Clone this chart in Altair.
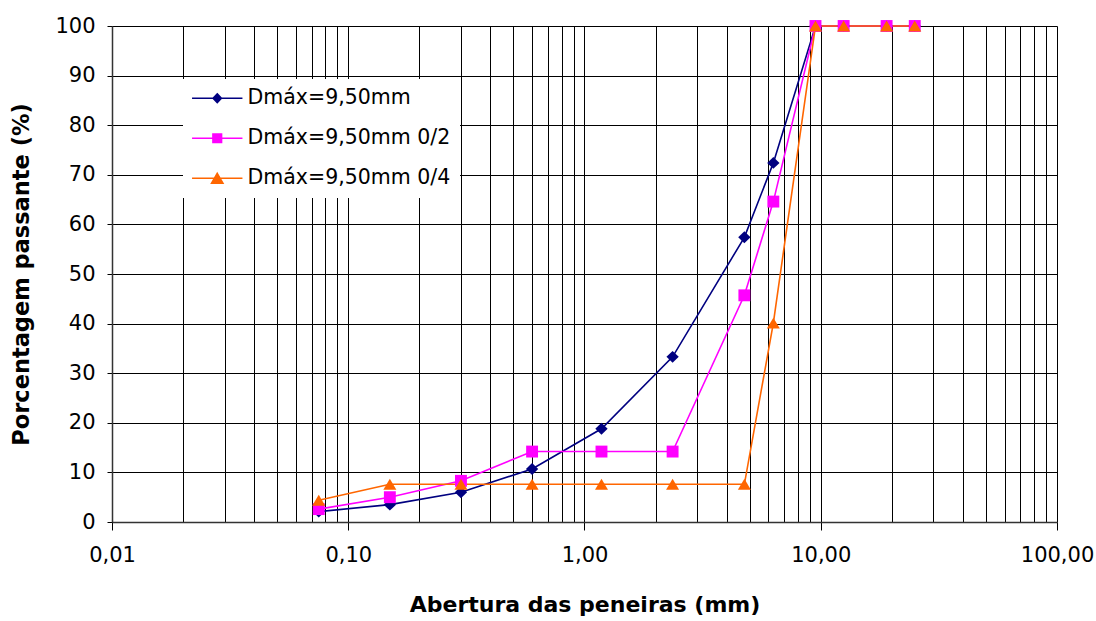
import altair as alt
import pandas as pd

# ---- data ----
sieves = [0.075, 0.15, 0.3, 0.6, 1.18, 2.36, 4.75, 6.3, 9.5, 12.5, 19.0, 25.0]
serie_names = ["Dmáx=9,50mm", "Dmáx=9,50mm 0/2", "Dmáx=9,50mm 0/4"]
passing_a = [2.1, 3.5, 6.0, 10.7, 18.8, 33.3, 57.4, 72.4, 100, 100, 100, 100]
passing_b = [2.6, 5.0, 8.3, 14.2, 14.2, 14.2, 45.7, 64.6, 100, 100, 100, 100]
passing_c = [4.4, 7.6, 7.6, 7.6, 7.6, 7.6, 7.6, 40.1, 100, 100, 100, 100]
series_colors = ["#000080", "#FF00FF", "#FF6600"]
x_tick_values = [0.01, 0.02, 0.03, 0.04, 0.05, 0.06, 0.07, 0.08, 0.09,
                 0.1, 0.2, 0.3, 0.4, 0.5, 0.6, 0.7, 0.8, 0.9,
                 1, 2, 3, 4, 5, 6, 7, 8, 9,
                 10, 20, 30, 40, 50, 60, 70, 80, 90, 100]
y_tick_values = [0, 10, 20, 30, 40, 50, 60, 70, 80, 90, 100]

# marker shapes (custom paths) and legend symbols (line + marker)
marker_paths = [
    "M0,-0.85L0.88,0L0,0.85L-0.88,0Z",
    "M-0.85,-0.85H0.85V0.85H-0.85Z",
    "M0,-0.78L0.93,0.78L-0.93,0.78Z",
]
legend_paths = [
    "M-3.6,0H3.6M0,-0.64L0.6,0L0,0.64L-0.6,0Z",
    "M-3.6,0H3.6M-0.62,-0.62H0.62V0.62H-0.62Z",
    "M-3.6,0H3.6M0,-0.7L0.82,0.7L-0.82,0.7Z",
]

rows = []
for name, vals in zip(serie_names, [passing_a, passing_b, passing_c]):
    for s, v in zip(sieves, vals):
        rows.append({"serie": name, "abertura": s, "passante": v})
df = pd.DataFrame(rows)

FONT = "DejaVu Sans"
decade = "abs(log(datum.value)/LN10 - round(log(datum.value)/LN10)) < 0.000001"

x_axis = alt.Axis(
    values=x_tick_values,
    title="Abertura das peneiras (mm)",
    labelExpr=f"({decade}) ? replace(format(datum.value, '.2f'), '.', ',') : ''",
    labelOverlap=False,
    labelFlush=False,
    grid=True, gridColor="#000000", gridWidth=1, gridOpacity=1,
    tickOpacity={"condition": {"test": decade, "value": 1}, "value": 0},
    tickSize=8, tickColor="#000000", tickWidth=1,
    domainColor="#333333", domainWidth=1.5,
    labelFont=FONT, labelFontSize=21, labelColor="#000000", labelPadding=14,
    titleFont=FONT, titleFontWeight="bold", titleFontSize=22, titleColor="#000000",
    titlePadding=29,
)
y_axis = alt.Axis(
    values=y_tick_values,
    title="Porcentagem passante (%)",
    grid=True, gridColor="#000000", gridWidth=1, gridOpacity=1,
    tickSize=5, tickColor="#000000", tickWidth=1,
    domainColor="#333333", domainWidth=1.5,
    labelFont=FONT, labelFontSize=21, labelColor="#000000", labelPadding=12,
    titleFont=FONT, titleFontWeight="bold", titleFontSize=22.5, titleColor="#000000",
    titlePadding=21,
)

x_enc = alt.X("abertura:Q", scale=alt.Scale(type="log", domain=[0.01, 100]), axis=x_axis)
y_enc = alt.Y("passante:Q", scale=alt.Scale(domain=[0, 100]), axis=y_axis)
color_scale = alt.Scale(domain=serie_names, range=series_colors)

lines = alt.Chart(df).mark_line(strokeWidth=1.6).encode(
    x=x_enc, y=y_enc,
    color=alt.Color("serie:N", scale=color_scale, legend=None),
)

points = alt.Chart(df).mark_point(filled=True, size=196, opacity=1, strokeWidth=0).encode(
    x=x_enc, y=y_enc,
    color=alt.Color("serie:N", scale=color_scale, legend=None),
    shape=alt.Shape("serie:N", scale=alt.Scale(domain=serie_names, range=marker_paths), legend=None),
)

leg = alt.Legend(
    title=None, orient="none", legendX=71, legendY=53,
    padding=9, fillColor="#FFFFFF", zindex=1,
    symbolSize=196, symbolStrokeWidth=1.5, symbolOffset=15,
    labelOffset=20, labelFont=FONT, labelFontSize=20.5, labelColor="#000000",
    labelLimit=400, rowPadding=19,
)
legend_layer = alt.Chart(df).mark_point(filled=True, size=196, opacity=1, strokeWidth=1.5).encode(
    x=x_enc, y=y_enc,
    color=alt.Color("serie:N", scale=color_scale, legend=leg),
    stroke=alt.Stroke("serie:N", scale=color_scale, legend=leg),
    shape=alt.Shape("serie:N", scale=alt.Scale(domain=serie_names, range=legend_paths), legend=leg),
).transform_filter("false")

chart = alt.layer(lines, points, legend_layer).resolve_scale(
    shape="independent", color="independent", stroke="independent"
).properties(
    width=945, height=496,
    autosize=alt.AutoSizeParams(type="none"),
    padding={"left": 112, "top": 26, "right": 39, "bottom": 99},
    background="#FFFFFF",
).configure_view(stroke=None)

chart.save("out.html", embed_options={"renderer": "svg", "actions": False})
